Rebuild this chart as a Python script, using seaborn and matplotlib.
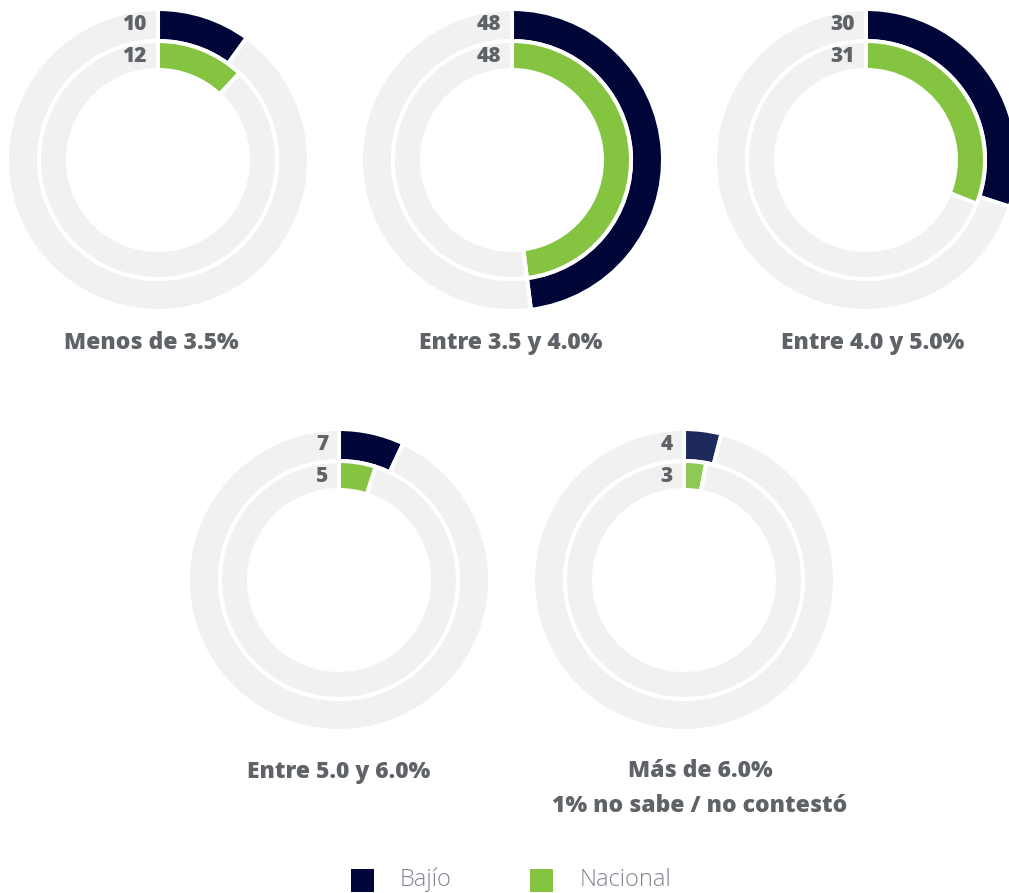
import matplotlib
matplotlib.use("Agg")
import matplotlib.pyplot as plt
from matplotlib.patches import Rectangle
import seaborn as sns

# ---- data ----
categories = ["Menos de 3.5%", "Entre 3.5 y 4.0%", "Entre 4.0 y 5.0%",
              "Entre 5.0 y 6.0%", "Más de 6.0%\n1% no sabe / no contestó"]
bajio = [10, 48, 30, 7, 4]
nacional = [12, 48, 31, 5, 3]
series_names = ["Bajío", "Nacional"]

# ---- style ----
sns.set_theme(style="white")
FONT = ["Open Sans", "DejaVu Sans"]
plt.rcParams["font.family"] = FONT

NAVY = "#000638"
GREEN = "#84c441"
NAVY_5 = "#1f2a5c"
GREEN_5 = "#8fc955"
GREY = "#f1f1f1"
TXT = "#5f6368"
LEG_TXT = "#80858f"

W, H = 1009, 893
fig = plt.figure(figsize=(W / 100, H / 100), dpi=100)
fig.patch.set_facecolor("white")

R = 151  # px
centers = [(158, 160), (512, 160), (866, 160), (339, 580), (684, 580)]
title_x = [151, 511, 873, 339, 700]
title_y = [343, 343, 343, 772, 771]

outer_w = (151 - 119) / R
inner_r = 119 / R
inner_w = (119 - 90) / R

for i, (cat, b, n) in enumerate(zip(categories, bajio, nacional)):
    cx, cy = centers[i]
    ax = fig.add_axes([(cx - R) / W, (H - cy - R) / H, 2 * R / W, 2 * R / H])
    c_out = NAVY_5 if i == 4 else NAVY
    c_in = GREEN_5 if i == 4 else GREEN
    wp = dict(edgecolor="white", linewidth=2.9)
    ax.pie([b, 100 - b], colors=[c_out, GREY], startangle=90, counterclock=False,
           radius=1.0, wedgeprops=dict(width=outer_w, **wp))
    ax.pie([n, 100 - n], colors=[c_in, GREY], startangle=90, counterclock=False,
           radius=inner_r, wedgeprops=dict(width=inner_w, **wp))
    ax.set_xlim(-1, 1)
    ax.set_ylim(-1, 1)
    ax.set_aspect("equal")
    ax.axis("off")

    # value labels
    fig.text((cx - 11) / W, 1 - (cy - 135) / H, f"{b}", ha="right", va="center",
             fontsize=15, fontweight=800, color=TXT, family=FONT)
    fig.text((cx - 11) / W, 1 - (cy - 104) / H, f"{n}", ha="right", va="center",
             fontsize=15, fontweight=800, color=TXT, family=FONT)
    # titles
    for k, line in enumerate(cat.split("\n")):
        fig.text(title_x[i] / W, 1 - (title_y[i] + 35 * k) / H, line,
                 ha="center", va="center", fontsize=16.5, fontweight=800,
                 color=TXT, family=FONT)

# legend
for name, col, sx, tx in zip(series_names, [NAVY, GREEN], [351, 530], [400, 580]):
    fig.patches.append(Rectangle((sx / W, 1 - 892 / H), 23 / W, 23 / H,
                                 transform=fig.transFigure, facecolor=col,
                                 edgecolor="none"))
    fig.text(tx / W, 1 - 880 / H, name, ha="left", va="center",
             fontsize=17, fontweight="light", color=LEG_TXT, family=FONT)

fig.savefig("out.png", dpi=100, facecolor="white")
